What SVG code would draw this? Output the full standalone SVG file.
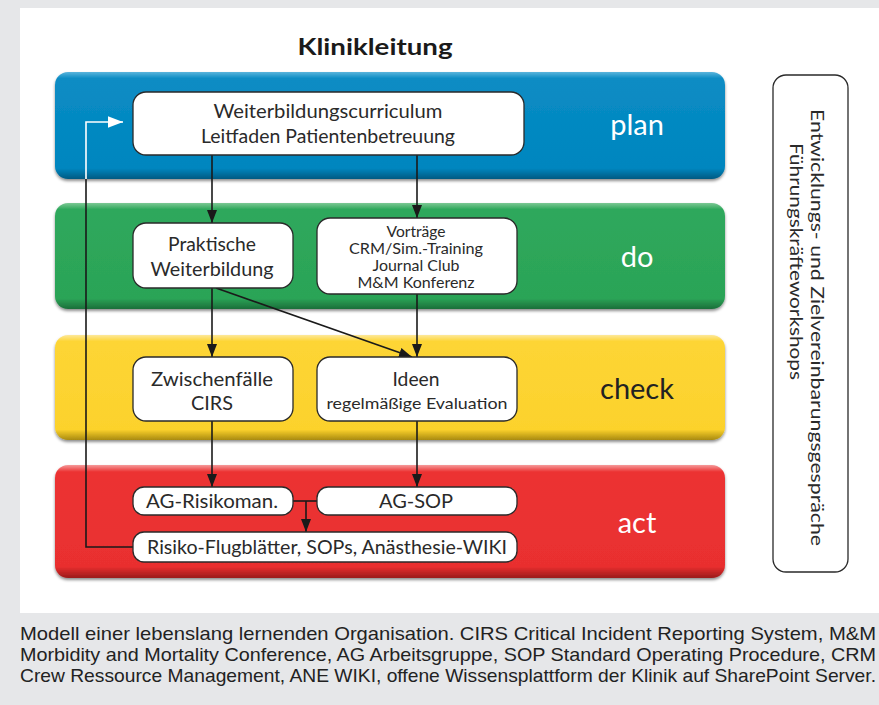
<svg xmlns="http://www.w3.org/2000/svg" width="879" height="705" viewBox="0 0 879 705">
<defs>
<style>
.node rect{fill:#fff;stroke:#2a2a2a;stroke-width:1.3}
.nt{font-family:Lato,"Open Sans","Liberation Sans",sans-serif;fill:#2a2a2a;text-anchor:middle}
.bl{font-family:Lato,"Open Sans","Liberation Sans",sans-serif;font-size:29px;text-anchor:middle;fill:#fff}
.cap{font-family:"Liberation Sans",Arial,sans-serif;font-size:19px;fill:#222}
.conn path{fill:none;stroke:#1a1a1a;stroke-width:1.6}
</style>
<linearGradient id="gBlue" x1="0" y1="0" x2="0" y2="1"><stop offset="0" stop-color="#5ab4dc"/><stop offset="0.06" stop-color="#0a8cc4"/><stop offset="0.9" stop-color="#0086bf"/><stop offset="1" stop-color="#005a82"/></linearGradient>
<linearGradient id="gGreen" x1="0" y1="0" x2="0" y2="1"><stop offset="0" stop-color="#7cc894"/><stop offset="0.06" stop-color="#2fa85c"/><stop offset="0.9" stop-color="#2ba457"/><stop offset="1" stop-color="#1b6e3a"/></linearGradient>
<linearGradient id="gYellow" x1="0" y1="0" x2="0" y2="1"><stop offset="0" stop-color="#fde89a"/><stop offset="0.06" stop-color="#fdd535"/><stop offset="0.9" stop-color="#fcd22c"/><stop offset="1" stop-color="#a88a10"/></linearGradient>
<linearGradient id="gRed" x1="0" y1="0" x2="0" y2="1"><stop offset="0" stop-color="#f59a9a"/><stop offset="0.06" stop-color="#ec3333"/><stop offset="0.9" stop-color="#e92f2f"/><stop offset="1" stop-color="#9a1a1a"/></linearGradient>
<filter id="sh" x="-5%" y="-10%" width="110%" height="130%"><feDropShadow dx="0" dy="2" stdDeviation="1.5" flood-color="#000" flood-opacity="0.45"/></filter>
<marker id="ar" viewBox="0 0 13 10" refX="13" refY="5" markerWidth="13" markerHeight="10" markerUnits="userSpaceOnUse" orient="auto"><path d="M0,0 L13,5 L0,10 z" fill="#1a1a1a"/></marker>
<marker id="arw" viewBox="0 0 13 10" refX="13" refY="5" markerWidth="15" markerHeight="12" markerUnits="userSpaceOnUse" orient="auto"><path d="M0,0 L13,5 L0,10 z" fill="#fff"/></marker>
</defs>
<rect x="0" y="0" width="879" height="705" fill="#e6e7e9"/>
<rect x="20" y="8" width="859" height="605" fill="#fff"/>
<text x="375" y="55" font-family="Lato,'Open Sans','Liberation Sans',sans-serif" font-size="23" font-weight="bold" fill="#1a1a1a" text-anchor="middle" textLength="155" lengthAdjust="spacingAndGlyphs">Klinikleitung</text>
<g id="band-plan"><rect x="55" y="72" width="670" height="107" rx="13" fill="url(#gBlue)" filter="url(#sh)"/><text class="bl" x="637" y="135">plan</text></g>
<g id="band-do"><rect x="55" y="203" width="670" height="106" rx="13" fill="url(#gGreen)" filter="url(#sh)"/><text class="bl" x="637" y="267">do</text></g>
<g id="band-check"><rect x="55" y="335" width="670" height="105" rx="13" fill="url(#gYellow)" filter="url(#sh)"/><text class="bl" x="637" y="399" style="fill:#222">check</text></g>
<g id="band-act"><rect x="55" y="465" width="670" height="113" rx="13" fill="url(#gRed)" filter="url(#sh)"/><text class="bl" x="637" y="533">act</text></g>
<g class="conn" id="connectors">
<path d="M212,155 V223" marker-end="url(#ar)"/>
<path d="M417,155 V218" marker-end="url(#ar)"/>
<path d="M212,288 V357" marker-end="url(#ar)"/>
<path d="M216,288 L412,357" marker-end="url(#ar)"/>
<path d="M417,294 V357" marker-end="url(#ar)"/>
<path d="M212,421 V487" marker-end="url(#ar)"/>
<path d="M417,421 V487" marker-end="url(#ar)"/>
<path d="M293,501 H317"/>
<path d="M306,501 V532" marker-end="url(#ar)"/>
<path d="M133,547 H86 V179"/>
<path d="M86,179 V122 H123" style="stroke:#fff" marker-end="url(#arw)"/>
</g>
<g class="node" id="n-plan"><rect x="133" y="92" width="391" height="63" rx="13"/><text class="nt" x="328" y="118" font-size="18.5" textLength="229" lengthAdjust="spacingAndGlyphs">Weiterbildungscurriculum</text><text class="nt" x="328" y="143" font-size="18.5" textLength="254" lengthAdjust="spacingAndGlyphs">Leitfaden Patientenbetreuung</text></g>
<g class="node" id="n-praktische"><rect x="133" y="223" width="160" height="65" rx="13"/><text class="nt" x="212" y="251" font-size="18.5" textLength="88" lengthAdjust="spacingAndGlyphs">Praktische</text><text class="nt" x="212" y="276" font-size="18.5" textLength="123" lengthAdjust="spacingAndGlyphs">Weiterbildung</text></g>
<g class="node" id="n-vortraege"><rect x="317" y="218" width="200" height="76" rx="13"/><text class="nt" x="416" y="237" font-size="15" textLength="59" lengthAdjust="spacingAndGlyphs">Vorträge</text><text class="nt" x="416" y="254" font-size="15" textLength="134" lengthAdjust="spacingAndGlyphs">CRM/Sim.-Training</text><text class="nt" x="416" y="271" font-size="15" textLength="87" lengthAdjust="spacingAndGlyphs">Journal Club</text><text class="nt" x="416" y="288" font-size="15" textLength="117" lengthAdjust="spacingAndGlyphs">M&amp;M Konferenz</text></g>
<g class="node" id="n-zwischenfaelle"><rect x="133" y="357" width="160" height="64" rx="13"/><text class="nt" x="212" y="386" font-size="18.5" textLength="122" lengthAdjust="spacingAndGlyphs">Zwischenfälle</text><text class="nt" x="212" y="410" font-size="18.5" textLength="42" lengthAdjust="spacingAndGlyphs">CIRS</text></g>
<g class="node" id="n-ideen"><rect x="317" y="357" width="200" height="64" rx="13"/><text class="nt" x="416" y="386" font-size="18.5" textLength="47" lengthAdjust="spacingAndGlyphs">Ideen</text><text class="nt" x="417" y="409" font-size="15" textLength="181" lengthAdjust="spacingAndGlyphs">regelmäßige Evaluation</text></g>
<g class="node" id="n-agrisiko"><rect x="133" y="487" width="160" height="28" rx="11"/><text class="nt" x="212" y="508" font-size="18.5" textLength="132" lengthAdjust="spacingAndGlyphs">AG-Risikoman.</text></g>
<g class="node" id="n-agsop"><rect x="317" y="487" width="200" height="28" rx="11"/><text class="nt" x="416" y="508" font-size="18.5" textLength="74" lengthAdjust="spacingAndGlyphs">AG-SOP</text></g>
<g class="node" id="n-risiko"><rect x="133" y="532" width="384" height="30" rx="11"/><text class="nt" x="327" y="554" font-size="18.5" textLength="360" lengthAdjust="spacingAndGlyphs">Risiko-Flugblätter, SOPs, Anästhesie-WIKI</text></g>
<g class="node" id="n-fuehrung"><rect x="773" y="75" width="75" height="497" rx="13"/><text class="nt" style="text-anchor:start" font-size="18" transform="translate(811,109) rotate(90)" textLength="437" lengthAdjust="spacingAndGlyphs">Entwicklungs- und Zielvereinbarungsgespräche</text><text class="nt" style="text-anchor:start" font-size="18" transform="translate(790,143) rotate(90)" textLength="237" lengthAdjust="spacingAndGlyphs">Führungskräfteworkshops</text></g>
<g id="caption">
<text class="cap" x="20" y="640" textLength="856" lengthAdjust="spacingAndGlyphs">Modell einer lebenslang lernenden Organisation. CIRS Critical Incident Reporting System, M&amp;M</text>
<text class="cap" x="20" y="661" textLength="856" lengthAdjust="spacingAndGlyphs">Morbidity and Mortality Conference, AG Arbeitsgruppe, SOP Standard Operating Procedure, CRM</text>
<text class="cap" x="20" y="682" textLength="856" lengthAdjust="spacingAndGlyphs">Crew Ressource Management, ANE WIKI, offene Wissensplattform der Klinik auf SharePoint Server.</text>
</g>
</svg>
